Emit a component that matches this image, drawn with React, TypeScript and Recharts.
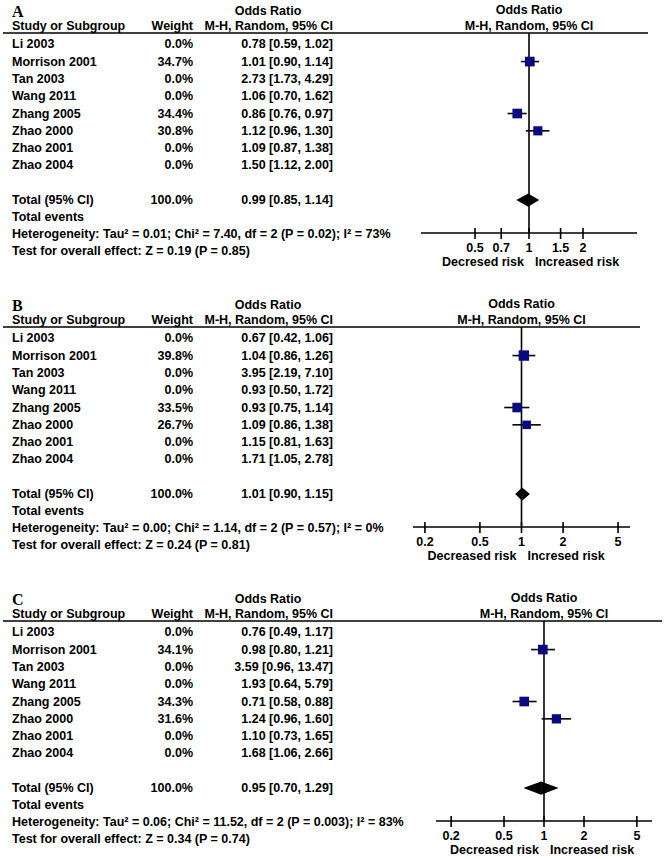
import React from "react";
import {
  ComposedChart,
  XAxis,
  YAxis,
  Scatter,
  ReferenceLine,
  ReferenceArea,
} from "recharts";

const studies = [
  "Li 2003",
  "Morrison 2001",
  "Tan 2003",
  "Wang 2011",
  "Zhang 2005",
  "Zhao 2000",
  "Zhao 2001",
  "Zhao 2004",
];
const rowIndex = [1, 2, 3, 4, 5, 6, 7, 8];
const totalRow = 10;

// panel A
const weightA = [0, 34.7, 0, 0, 34.4, 30.8, 0, 0];
const orA = [0.78, 1.01, 2.73, 1.06, 0.86, 1.12, 1.09, 1.5];
const lowA = [0.59, 0.9, 1.73, 0.7, 0.76, 0.96, 0.87, 1.12];
const highA = [1.02, 1.14, 4.29, 1.62, 0.97, 1.3, 1.38, 2.0];
const totalA = [0.99, 0.85, 1.14];
const hetA = "Heterogeneity: Tau² = 0.01; Chi² = 7.40, df = 2 (P = 0.02); I² = 73%";
const testA = "Test for overall effect: Z = 0.19 (P = 0.85)";
const ticksA = [0.5, 0.7, 1, 1.5, 2];
const sidesA = ["Decresed risk", "Increased risk"];

// panel B
const weightB = [0, 39.8, 0, 0, 33.5, 26.7, 0, 0];
const orB = [0.67, 1.04, 3.95, 0.93, 0.93, 1.09, 1.15, 1.71];
const lowB = [0.42, 0.86, 2.19, 0.5, 0.75, 0.86, 0.81, 1.05];
const highB = [1.06, 1.26, 7.1, 1.72, 1.14, 1.38, 1.63, 2.78];
const totalB = [1.01, 0.9, 1.15];
const hetB = "Heterogeneity: Tau² = 0.00; Chi² = 1.14, df = 2 (P = 0.57); I² = 0%";
const testB = "Test for overall effect: Z = 0.24 (P = 0.81)";
const ticksB = [0.2, 0.5, 1, 2, 5];
const sidesB = ["Decreased risk", "Incresed risk"];

// panel C
const weightC = [0, 34.1, 0, 0, 34.3, 31.6, 0, 0];
const orC = [0.76, 0.98, 3.59, 1.93, 0.71, 1.24, 1.1, 1.68];
const lowC = [0.49, 0.8, 0.96, 0.64, 0.58, 0.96, 0.73, 1.06];
const highC = [1.17, 1.21, 13.47, 5.79, 0.88, 1.6, 1.65, 2.66];
const totalC = [0.95, 0.7, 1.29];
const hetC = "Heterogeneity: Tau² = 0.06; Chi² = 11.52, df = 2 (P = 0.003); I² = 83%";
const testC = "Test for overall effect: Z = 0.34 (P = 0.74)";
const ticksC = [0.2, 0.5, 1, 2, 5];
const sidesC = ["Decreased risk", "Increased risk"];

const FONT = "'Liberation Sans', Arial, sans-serif";
const SERIF = "'Liberation Serif', 'Times New Roman', serif";
const W = 664;
const H = 294;
const TOP = 33;
const PLOT_H = 200;
const Y_DOMAIN: [number, number] = [0.35, 11.9];
const NAVY = "#0a0a80";

type PanelDef = {
  letter: string;
  weight: number[];
  or: number[];
  low: number[];
  high: number[];
  total: number[];
  het: string;
  test: string;
  ticks: number[];
  sides: string[];
  domain: [number, number];
  plotLeft: number;
  plotRight: number;
  lineEnd: number;
};

const panels: PanelDef[] = [
  {
    letter: "A", weight: weightA, or: orA, low: lowA, high: highA, total: totalA,
    het: hetA, test: testA, ticks: ticksA, sides: sidesA,
    domain: [0.25, 4], plotLeft: 420, plotRight: 637, lineEnd: 648,
  },
  {
    letter: "B", weight: weightB, or: orB, low: lowB, high: highB, total: totalB,
    het: hetB, test: testB, ticks: ticksB, sides: sidesB,
    domain: [1 / 6.1, 6.1], plotLeft: 412, plotRight: 630, lineEnd: 640,
  },
  {
    letter: "C", weight: weightC, or: orC, low: lowC, high: highC, total: totalC,
    het: hetC, test: testC, ticks: ticksC, sides: sidesC,
    domain: [1 / 6.5, 6.5], plotLeft: 435, plotRight: 652, lineEnd: 662,
  },
];

const txt = {
  fontFamily: FONT,
  fontWeight: 700,
  fontSize: 12.5,
  fill: "#000",
} as const;

const ciText = (o: number, l: number, h: number) =>
  `${o.toFixed(2)} [${l.toFixed(2)}, ${h.toFixed(2)}]`;

function ForestPanel({ p }: { p: PanelDef }) {
  const rows = studies.map((name, i) => ({
    name,
    y: rowIndex[i],
    w: p.weight[i],
    or: p.or[i],
    lo: p.low[i],
    hi: p.high[i],
  }));
  const plotted = rows.filter((r) => r.w > 0);
  const [tEst, tLo, tHi] = p.total;

  const rowTick = (props: any) => {
    const v = props.payload.value;
    const y = props.y + 4;
    if (v === totalRow) {
      return (
        <g>
          <text {...txt} x={12} y={y}>Total (95% CI)</text>
          <text {...txt} x={193} y={y} textAnchor="end">100.0%</text>
          <text {...txt} x={333} y={y} textAnchor="end">{ciText(tEst, tLo, tHi)}</text>
          <text {...txt} x={12} y={y + 17}>Total events</text>
          <text {...txt} x={12} y={y + 34}>{p.het}</text>
          <text {...txt} x={12} y={y + 51}>{p.test}</text>
        </g>
      );
    }
    const r = rows.find((d) => d.y === v);
    if (!r) return <g />;
    return (
      <g>
        <text {...txt} x={12} y={y}>{r.name}</text>
        <text {...txt} x={193} y={y} textAnchor="end">{r.w.toFixed(1)}%</text>
        <text {...txt} x={333} y={y} textAnchor="end">{ciText(r.or, r.lo, r.hi)}</text>
      </g>
    );
  };

  const axisTick = (props: any) => {
    const { x, y, payload } = props;
    return (
      <g>
        <line x1={x} x2={x} y1={y - 5} y2={y + 6} stroke="#000" strokeWidth={1.6} />
        <text {...txt} x={x} y={y + 19} textAnchor="middle">{payload.value}</text>
        {payload.value === 1 && (
          <>
            <text {...txt} x={x - 5} y={y + 33} textAnchor="end">{p.sides[0]}</text>
            <text {...txt} x={x + 6} y={y + 33} textAnchor="start">{p.sides[1]}</text>
          </>
        )}
      </g>
    );
  };

  const rightHeader = (props: any) => {
    const vb = props.viewBox || {};
    return (
      <g>
        <text {...txt} x={vb.x} y={vb.y - 19} textAnchor="middle">Odds Ratio</text>
        <text {...txt} x={vb.x} y={vb.y - 3} textAnchor="middle">M-H, Random, 95% CI</text>
      </g>
    );
  };

  const square = (props: any) => {
    const s = 1.65 * Math.sqrt(props.payload.w);
    return <rect x={props.cx - s / 2} y={props.cy - s / 2} width={s} height={s} fill={NAVY} />;
  };

  const leftHalf = (props: any) => {
    const { x, y, width, height } = props;
    return (
      <polygon
        points={`${x},${y + height / 2} ${x + width},${y} ${x + width},${y + height}`}
        fill="#000"
      />
    );
  };
  const rightHalf = (props: any) => {
    const { x, y, width, height } = props;
    return (
      <polygon
        points={`${x},${y} ${x + width},${y + height / 2} ${x},${y + height}`}
        fill="#000"
      />
    );
  };

  return (
    <ComposedChart
      width={W}
      height={H}
      margin={{ top: TOP, left: p.plotLeft, right: W - p.plotRight, bottom: 0 }}
    >
      <text x={12} y={17} fontFamily={SERIF} fontWeight={700} fontSize={16} fill="#000">
        {p.letter}
      </text>
      <text {...txt} x={268} y={15} textAnchor="middle">Odds Ratio</text>
      <text {...txt} x={12} y={30}>Study or Subgroup</text>
      <text {...txt} x={193} y={30} textAnchor="end">Weight</text>
      <text {...txt} x={333} y={30} textAnchor="end">M-H, Random, 95% CI</text>
      <line x1={3} x2={p.lineEnd} y1={TOP} y2={TOP} stroke="#000" strokeWidth={1.6} />

      <XAxis
        type="number"
        dataKey="or"
        scale="log"
        domain={p.domain}
        ticks={p.ticks}
        allowDataOverflow
        interval={0}
        height={H - TOP - PLOT_H}
        tickSize={0}
        tickMargin={0}
        tickLine={false}
        axisLine={{ stroke: "#000", strokeWidth: 1.6 }}
        tick={axisTick}
      />
      <YAxis
        type="number"
        dataKey="y"
        domain={Y_DOMAIN}
        reversed
        allowDataOverflow
        ticks={[...rowIndex, totalRow]}
        interval={0}
        width={1}
        axisLine={false}
        tickLine={false}
        tick={rowTick}
      />

      <ReferenceLine
        x={1}
        stroke="#000"
        strokeWidth={1.6}
        label={{ content: rightHeader }}
      />
      {plotted.map((r) => (
        <ReferenceLine
          key={r.name}
          segment={[
            { x: r.lo, y: r.y },
            { x: r.hi, y: r.y },
          ]}
          stroke="#000"
          strokeWidth={1.6}
        />
      ))}
      <ReferenceArea
        x1={tLo}
        x2={tEst}
        y1={totalRow - 0.38}
        y2={totalRow + 0.38}
        shape={leftHalf}
      />
      <ReferenceArea
        x1={tEst}
        x2={tHi}
        y1={totalRow - 0.38}
        y2={totalRow + 0.38}
        shape={rightHalf}
      />
      <Scatter data={plotted} dataKey="y" shape={square} isAnimationActive={false} />
    </ComposedChart>
  );
}

export default function App() {
  return (
    <div
      style={{
        position: "absolute",
        left: 0,
        top: 0,
        width: W,
        height: 859,
        overflow: "hidden",
        background: "#fff",
      }}
    >
      {panels.map((p) => (
        <div key={p.letter} style={{ height: H, width: W }}>
          <ForestPanel p={p} />
        </div>
      ))}
    </div>
  );
}
